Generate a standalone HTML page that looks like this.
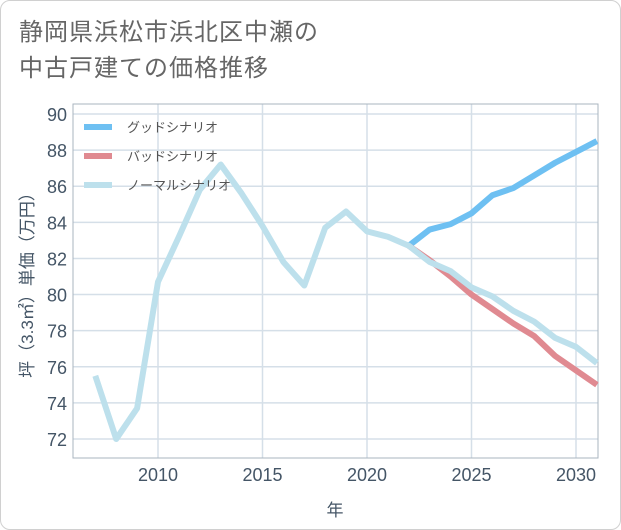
<!DOCTYPE html>
<html><head><meta charset="utf-8"><style>
html,body{margin:0;padding:0;background:#fff;}
#card{position:absolute;left:0;top:0;width:619px;height:528px;border:1px solid #d0d0d0;border-radius:10px;background:#fff;overflow:hidden;}
#title{position:absolute;left:18px;top:14px;font:24px/36px "Liberation Sans","Noto Sans CJK JP",sans-serif;color:#666;letter-spacing:1px;}
svg text{font-family:"Liberation Sans","Noto Sans CJK JP",sans-serif;}
</style></head><body>
<div id="card">
<div id="title">静岡県浜松市浜北区中瀬の<br>中古戸建ての価格推移</div>
<svg id="chart" width="621" height="530" style="position:absolute;left:0;top:0"></svg>
</div>
<script>
const years=[2007,2008,2009,2010,2011,2012,2013,2014,2015,2016,2017,2018,2019,2020,2021,2022,2023,2024,2025,2026,2027,2028,2029,2030,2031];
const normalValues=[75.5,72.0,73.7,80.7,83.2,85.8,87.2,85.6,83.8,81.8,80.5,83.7,84.6,83.5,83.2,82.7,81.8,81.3,80.4,79.9,79.1,78.5,77.6,77.1,76.2];
const goodYears=[2022,2023,2024,2025,2026,2027,2028,2029,2030,2031];
const goodValues=[82.7,83.6,83.9,84.5,85.5,85.9,86.6,87.3,87.9,88.5];
const badValues=[82.7,81.9,81.0,80.0,79.2,78.4,77.7,76.6,75.8,75.0];
const yTicks=[72,74,76,78,80,82,84,86,88,90];
const xTicks=[2010,2015,2020,2025,2030];
const legendLabels=["グッドシナリオ","バッドシナリオ","ノーマルシナリオ"];

const NS="http://www.w3.org/2000/svg";
const svg=document.getElementById('chart');
const L=72,R=597,T=103,B=457;
function xs(v){return 157+(v-2010)*(575-157)/20;}
function ys(v){return 113+(90-v)*(438-113)/18;}
function mk(tag,attrs,parent){const e=document.createElementNS(NS,tag);for(const k in attrs)e.setAttribute(k,attrs[k]);(parent||svg).appendChild(e);return e;}

for(const t of yTicks){
  const g=mk('line',{x1:L,x2:R,y1:ys(t),y2:ys(t),stroke:'#d5dfe8','stroke-width':1.5});
  
  
  const tx=mk('text',{x:L-6,y:ys(t)+7,'text-anchor':'end','font-size':18,fill:'#445566'});
  tx.textContent=t;
  
  
}
for(const t of xTicks){
  const g=mk('line',{x1:xs(t),x2:xs(t),y1:T,y2:B,stroke:'#d5dfe8','stroke-width':1.5});
  
  
  const tx=mk('text',{x:xs(t),y:B+23,'text-anchor':'middle','font-size':18,fill:'#445566'});
  tx.textContent=t;
  
  
}
const frame=mk('rect',{x:L,y:T,width:R-L,height:B-T,fill:'none',stroke:'#aab4bf','stroke-width':1});



function line(xv,yv,color,name){
  const p=xv.map((x,i)=>xs(x)+','+ys(yv[i])).join(' ');
  const e=mk('polyline',{points:p,fill:'none',stroke:color,'stroke-width':6,'stroke-linejoin':'round'});
  
  
}
line(goodYears,goodValues,'#6ec0f2','good-scenario-line');
line(goodYears,badValues,'#e08a91','bad-scenario-line');
line(years,normalValues,'#bde0ec','normal-scenario-line');

const colors=['#6ec0f2','#e08a91','#bde0ec'];
legendLabels.forEach((lab,i)=>{
  const y=126+i*29;
  const s=mk('line',{x1:83,x2:111,y1:y,y2:y,stroke:colors[i],'stroke-width':6});
  
  
  const t=mk('text',{x:126,y:y+5,'font-size':13,fill:'#555'});
  t.textContent=lab;
  
  
});
const xt=mk('text',{x:334,y:515,'text-anchor':'middle','font-size':17,fill:'#445566'});
xt.textContent='年';


const yt=mk('text',{x:0,y:0,'text-anchor':'middle','font-size':17,fill:'#445566',transform:'translate(32,280) rotate(-90)'});
yt.textContent='坪（3.3㎡）単価（万円）';


</script>
</body></html>
